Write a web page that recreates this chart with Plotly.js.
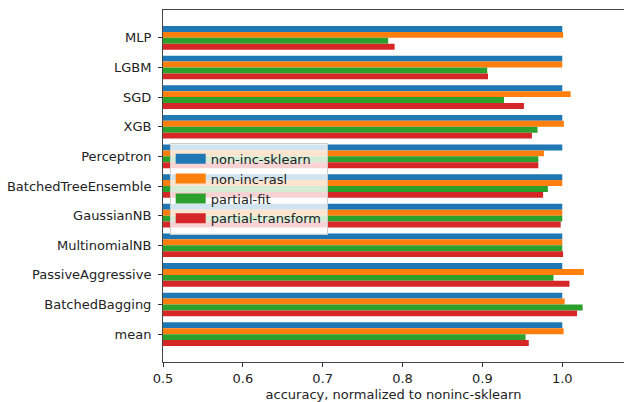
<!DOCTYPE html>
<html>
<head>
<meta charset="utf-8">
<script src="https://cdn.plot.ly/plotly-3.0.1.min.js"></script>
<style>html,body{margin:0;padding:0;background:#fff;}#chart{width:624px;height:402px;}</style>
</head>
<body>
<div id="chart"></div>
<script>
const categories = ["MLP","LGBM","SGD","XGB","Perceptron","BatchedTreeEnsemble","GaussianNB","MultinomialNB","PassiveAggressive","BatchedBagging","mean"];
const seriesNames = ["non-inc-sklearn","non-inc-rasl","partial-fit","partial-transform"];
const nonIncSklearn = [1.0,1.0,1.0,1.0,1.0,1.0,1.0,1.0,1.0,1.0,1.0];
const nonIncRasl = [1.001,1.0,1.0105,1.002,0.977,1.0,1.0,1.0,1.027,1.003,1.0017];
const partialFit = [0.782,0.906,0.927,0.969,0.970,0.982,1.0,1.0,0.989,1.0255,0.954];
const partialTransform = [0.790,0.907,0.952,0.962,0.970,0.976,0.998,1.001,1.009,1.0185,0.958];
const xTickVals = [0.5,0.6,0.7,0.8,0.9,1.0];
const colors = ["#1f77b4","#ff7f0e","#2ca02c","#d62728"];

const seriesValues = [nonIncSklearn, nonIncRasl, partialFit, partialTransform];
const FONT = "DejaVu Sans, sans-serif";
const FS = 13;
const traces = [];
seriesValues.forEach((vals, i) => {
  traces.push({
    type: "bar", orientation: "h",
    x: vals, y: categories,
    name: seriesNames[i],
    marker: {color: colors[i], line: {width: 0}},
    showlegend: false,
    legendgroup: "g" + i,
    hoverinfo: "x+y"
  });
});
seriesValues.forEach((vals, i) => {
  traces.push({
    type: "scatter", mode: "lines",
    x: [null], y: [null],
    name: seriesNames[i],
    line: {color: colors[i], width: 10},
    showlegend: true,
    legendgroup: "g" + i,
    hoverinfo: "skip"
  });
});

const layout = {
  width: 624, height: 402,
  margin: {l: 163, r: 0, t: 10, b: 40, pad: 0},
  paper_bgcolor: "#fff", plot_bgcolor: "#fff",
  font: {family: FONT, size: FS, color: "#222"},
  barmode: "group", bargap: 0.2, bargroupgap: 0,
  showlegend: true,
  legend: {
    x: 0.0145, y: 0.623, xanchor: "left", yanchor: "top",
    bgcolor: "rgba(255,255,255,0.8)", bordercolor: "#cccccc", borderwidth: 1,
    font: {family: FONT, size: FS, color: "#222"},
    itemwidth: 30, traceorder: "grouped", tracegroupgap: 0
  },
  xaxis: {
    range: [0.5, 1.0773],
    tickvals: xTickVals, tickformat: ".1f",
    ticks: "outside", ticklen: 4, tickwidth: 1, tickcolor: "#333",
    showline: true, linecolor: "#444", linewidth: 1, mirror: true,
    showgrid: false, zeroline: false,
    tickfont: {family: FONT, size: FS, color: "#222"},
    title: {text: "accuracy, normalized to noninc-sklearn", font: {family: FONT, size: FS, color: "#222"}, standoff: 5}
  },
  yaxis: {
    type: "category",
    range: [10.94, -0.94],
    ticks: "outside", ticklen: 4, tickwidth: 1, tickcolor: "#333",
    ticklabelstandoff: 4,
    showline: true, linecolor: "#444", linewidth: 1,
    showgrid: false, zeroline: false,
    tickfont: {family: FONT, size: FS, color: "#222"}
  }
};

Plotly.newPlot("chart", traces, layout, {staticPlot: true, displayModeBar: false});
</script>
</body>
</html>
